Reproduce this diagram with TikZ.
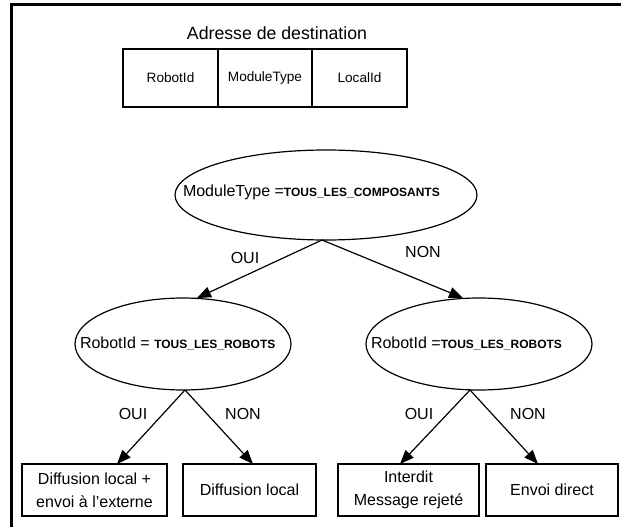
\documentclass[tikz,border=0pt]{standalone}
\usepackage{fontspec}
\setmainfont{Liberation Sans}
\usetikzlibrary{arrows.meta,shapes.geometric}
\begin{document}
\begin{tikzpicture}[x=1pt,y=-1pt,
  every node/.style={inner sep=0pt,outer sep=0pt},
  txt/.style={font=\fontsize{16}{23}\selectfont},
  bigtxt/.style={font=\fontsize{17.7}{21}\selectfont},
  cell/.style={draw,line width=1.2pt,rectangle,minimum height=58pt,font=\fontsize{13.6}{16}\selectfont},
  oval/.style={draw,line width=1.2pt,ellipse},
  outbox/.style={draw,line width=1.2pt,rectangle,minimum height=52pt,align=center,font=\fontsize{16}{23}\selectfont},
  arr/.style={line width=1.2pt,-{Triangle[length=14pt,width=11pt]}},
  lbl/.style={font=\fontsize{16}{19}\selectfont}
]
\useasboundingbox (0,0) rectangle (621,527);
\fill[white] (0,0) rectangle (621,527);
% frame (cropped at right and bottom)
\draw[line width=2.7pt] (11.3,530) -- (11.3,4.7) -- (625,4.7);

% title and table
\node[bigtxt] (title) at (277,33) {Adresse de destination};
\node[cell,minimum width=95pt] (c1) at (170.5,78) {RobotId};
\node[cell,minimum width=94pt] (c2) at (265,78) {ModuleType};
\node[cell,minimum width=95pt] (c3) at (359.5,78) {LocalId};

% ellipses
\node[oval,minimum width=302pt,minimum height=90pt] (te) at (326,195) {};
\node[anchor=west,txt] (tt) at (183,192) {ModuleType =\fontsize{12}{14}\selectfont\bfseries TOUS\_LES\_COMPOSANTS};
\node[oval,minimum width=216pt,minimum height=92pt] (le) at (183,344) {};
\node[anchor=west,txt] (lt) at (80,343) {RobotId = \fontsize{12}{14}\selectfont\bfseries TOUS\_LES\_ROBOTS};
\node[oval,minimum width=226pt,minimum height=92pt] (re) at (479,344) {};
\node[anchor=west,txt] (rt) at (371,343) {RobotId =\fontsize{12}{14}\selectfont\bfseries TOUS\_LES\_ROBOTS};

% result boxes
\node[outbox,minimum width=145pt] (b1) at (94.5,490) {Diffusion local +\\envoi à l’externe};
\node[outbox,minimum width=133pt] (b2) at (249.5,490) {Diffusion local};
\node[outbox,minimum width=141pt] (b3) at (408.5,490) {Interdit\\Message rejeté};
\node[outbox,minimum width=132pt] (b4) at (552,490) {Envoi direct};

% arrows
\draw[arr] ([xshift=-4pt]te.south) -- ([xshift=14pt]le.north);
\draw[arr] ([xshift=-4pt]te.south) -- ([xshift=-16pt]re.north);
\draw[arr] ([xshift=2pt]le.south) -- ([xshift=22.5pt]b1.north);
\draw[arr] ([xshift=2pt]le.south) -- ([xshift=3.5pt]b2.north);
\draw[arr] ([xshift=-9pt]re.south) -- ([xshift=-8.5pt]b3.north);
\draw[arr] ([xshift=-9pt]re.south) -- ([xshift=-14pt]b4.north);

% labels
\node[lbl] (l1) at (245,258) {OUI};
\node[lbl] (l2) at (423,252) {NON};
\node[lbl] (l3) at (133,414) {OUI};
\node[lbl] (l4) at (243,414) {NON};
\node[lbl] (l5) at (419,414) {OUI};
\node[lbl] (l6) at (528,414) {NON};
\end{tikzpicture}
\end{document}
